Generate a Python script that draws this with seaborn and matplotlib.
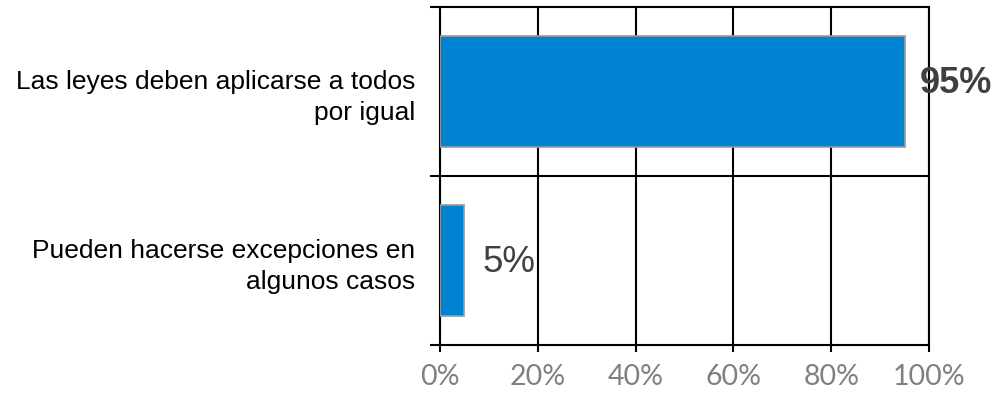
import numpy as np
import matplotlib
matplotlib.use("Agg")
import matplotlib.pyplot as plt
import matplotlib.ticker as ticker
import pandas as pd
import seaborn as sns

categories = ["Las leyes deben aplicarse a todos\npor igual",
              "Pueden hacerse excepciones en\nalgunos casos"]
values = [95, 5]
value_labels = ["95%", "5%"]
x_ticks = [0, 20, 40, 60, 80, 100]
x_tick_labels = ["0%", "20%", "40%", "60%", "80%", "100%"]

df = pd.DataFrame({"categoria": categories, "valor": values})

sns.set_style("white")
plt.rcParams['font.family'] = ['Liberation Sans', 'DejaVu Sans']

fig = plt.figure(figsize=(9.96, 3.94), dpi=100)
ax = fig.add_axes([0.4418, 0.1244, 0.4910, 0.8579])

sns.barplot(data=df, x="valor", y="categoria", orient="h", ax=ax,
            color="#0084D1", saturation=1, width=0.66,
            edgecolor="#9a9a9a", linewidth=1.2, zorder=3)

ax.set_xlim(0, 100)
ax.set_ylim(1.5, -0.5)
ax.set_xlabel("")
ax.set_ylabel("")

# vertical grid lines
ax.xaxis.set_major_locator(ticker.FixedLocator(x_ticks))
ax.set_xticklabels(x_tick_labels, family=['Lato', 'DejaVu Sans'],
                   fontsize=20.5, color="#808080")
ax.grid(axis="x", color="black", linewidth=1.5, zorder=1)
ax.set_axisbelow(True)
ax.tick_params(axis="x", which="major", length=5, width=1.5, color="black",
               direction="out", pad=9, bottom=True)

# category boundaries on the y axis
ax.yaxis.set_minor_locator(ticker.FixedLocator([-0.5, 0.5, 1.5]))
ax.tick_params(axis="y", which="minor", length=7, width=1.5, color="black",
               direction="out", left=True)
ax.tick_params(axis="y", which="major", length=0, pad=18, labelsize=19,
               labelcolor="black")
for lab in ax.get_yticklabels():
    lab.set_horizontalalignment("right")
    lab.set_multialignment("right")
    lab.set_linespacing(1.35)
ax.axhline(0.5, color="black", linewidth=1.5, zorder=1)

for s in ax.spines.values():
    s.set_visible(True)
    s.set_color("black")
    s.set_linewidth(1.5)

# value labels
ax.text(values[0] + 3, -0.045, value_labels[0], va="center", ha="left",
        fontsize=26, fontweight="bold", color="#404040", zorder=5)
ax.text(values[1] + 3.7, 1.01, value_labels[1], va="center", ha="left",
        fontsize=26.5, color="#404040", zorder=5)

fig.savefig("out.png", dpi=100)
